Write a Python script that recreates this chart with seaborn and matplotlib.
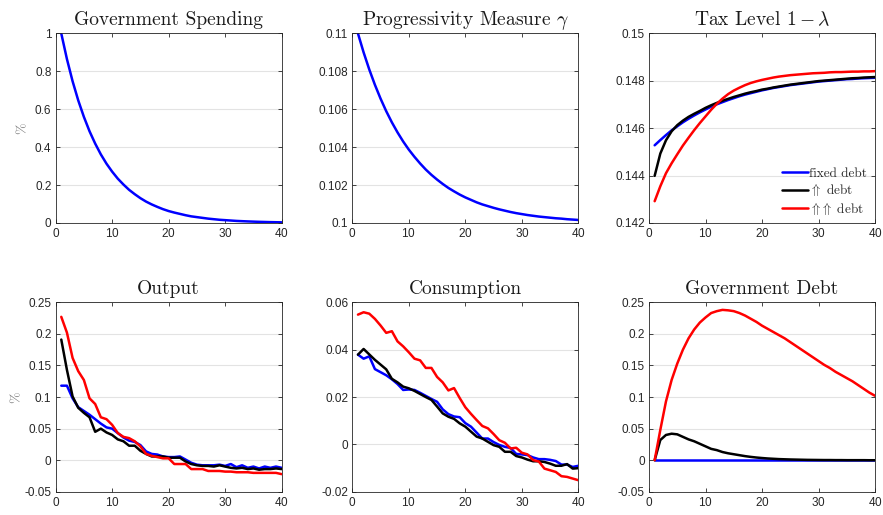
import numpy as np
import pandas as pd
import matplotlib
matplotlib.use("Agg")
import matplotlib.pyplot as plt
import seaborn as sns
from matplotlib.ticker import FuncFormatter, MultipleLocator

sns.set_style("ticks")
plt.rcParams["font.family"] = ["Liberation Sans", "DejaVu Sans"]
plt.rcParams["mathtext.fontset"] = "cm"
plt.rcParams["axes.formatter.use_mathtext"] = True

periods = list(range(1, 41))

# ---- values ----
gov_spending = [1.000, 0.865, 0.748, 0.647, 0.560, 0.484, 0.419, 0.362, 0.313, 0.271,
                0.234, 0.203, 0.175, 0.152, 0.131, 0.113, 0.098, 0.085, 0.073, 0.063,
                0.055, 0.048, 0.041, 0.035, 0.031, 0.027, 0.023, 0.020, 0.017, 0.015,
                0.013, 0.011, 0.0096, 0.0083, 0.0072, 0.0062, 0.0054, 0.0046, 0.0040, 0.0035]

progressivity = [0.11000, 0.10900, 0.10810, 0.10729, 0.10656, 0.10590, 0.10531, 0.10478, 0.10430, 0.10387,
                 0.10349, 0.10314, 0.10282, 0.10254, 0.10229, 0.10206, 0.10185, 0.10167, 0.10150, 0.10135,
                 0.10122, 0.10109, 0.10098, 0.10089, 0.10080, 0.10072, 0.10065, 0.10058, 0.10052, 0.10047,
                 0.10042, 0.10038, 0.10034, 0.10031, 0.10028, 0.10025, 0.10023, 0.10020, 0.10018, 0.10016]

tax_fixed = [0.14528, 0.14550, 0.14571, 0.14591, 0.14608, 0.14625, 0.14640, 0.14654, 0.14667, 0.14679,
             0.14691, 0.14701, 0.14710, 0.14719, 0.14727, 0.14735, 0.14742, 0.14748, 0.14754, 0.14760,
             0.14765, 0.14770, 0.14774, 0.14778, 0.14782, 0.14785, 0.14788, 0.14791, 0.14794, 0.14797,
             0.14799, 0.14801, 0.14803, 0.14805, 0.14807, 0.14808, 0.14810, 0.14811, 0.14812, 0.14813]
tax_up = [0.14399, 0.14493, 0.14549, 0.14587, 0.14613, 0.14632, 0.14648, 0.14661, 0.14673, 0.14686,
          0.14697, 0.14707, 0.14716, 0.14724, 0.14732, 0.14739, 0.14746, 0.14752, 0.14757, 0.14763,
          0.14767, 0.14772, 0.14776, 0.14780, 0.14784, 0.14787, 0.14790, 0.14793, 0.14796, 0.14799,
          0.14801, 0.14803, 0.14805, 0.14807, 0.14809, 0.14811, 0.14812, 0.14814, 0.14815, 0.14816]
tax_upup = [0.14292, 0.14355, 0.14410, 0.14452, 0.14490, 0.14527, 0.14560, 0.14592, 0.14622, 0.14650,
            0.14678, 0.14703, 0.14725, 0.14744, 0.14759, 0.14771, 0.14782, 0.14791, 0.14798, 0.14804,
            0.14809, 0.14814, 0.14818, 0.14821, 0.14824, 0.14826, 0.14828, 0.14830, 0.14832, 0.14833,
            0.14834, 0.14836, 0.14837, 0.14837, 0.14838, 0.14839, 0.14839, 0.14840, 0.14840, 0.14841]

output_fixed = [0.118, 0.118, 0.098, 0.084, 0.078, 0.072, 0.065, 0.058, 0.052, 0.050,
                0.043, 0.036, 0.031, 0.029, 0.024, 0.014, 0.010, 0.009, 0.006, 0.005,
                0.005, 0.006, 0.001, -0.004, -0.007, -0.008, -0.008, -0.008, -0.007, -0.009,
                -0.006, -0.011, -0.008, -0.012, -0.010, -0.013, -0.010, -0.012, -0.010, -0.012]
output_up = [0.191, 0.143, 0.101, 0.083, 0.075, 0.068, 0.045, 0.050, 0.044, 0.040,
             0.033, 0.030, 0.023, 0.023, 0.015, 0.010, 0.006, 0.006, 0.006, 0.004,
             0.004, 0.004, -0.002, -0.006, -0.008, -0.009, -0.009, -0.010, -0.008, -0.010,
             -0.012, -0.013, -0.012, -0.014, -0.013, -0.015, -0.014, -0.014, -0.013, -0.014]
output_upup = [0.227, 0.202, 0.162, 0.141, 0.127, 0.098, 0.089, 0.068, 0.065, 0.056,
               0.043, 0.037, 0.035, 0.030, 0.022, 0.010, 0.007, 0.005, 0.003, 0.003,
               -0.006, -0.006, -0.006, -0.014, -0.014, -0.014, -0.017, -0.017, -0.017, -0.018,
               -0.018, -0.019, -0.019, -0.019, -0.020, -0.020, -0.020, -0.020, -0.020, -0.022]

cons_fixed = [0.0379, 0.0362, 0.0372, 0.0318, 0.0305, 0.0292, 0.0275, 0.0255, 0.0230, 0.0232,
              0.0230, 0.0218, 0.0205, 0.0192, 0.0180, 0.0148, 0.0128, 0.0118, 0.0115, 0.0090,
              0.0075, 0.0050, 0.0025, 0.0025, 0.0010, -0.0002, -0.0010, -0.0015, -0.0040, -0.0042,
              -0.0045, -0.0055, -0.0062, -0.0062, -0.0065, -0.0070, -0.0085, -0.0085, -0.0095, -0.0090]
cons_up = [0.0379, 0.0403, 0.0380, 0.0357, 0.0337, 0.0317, 0.0277, 0.0262, 0.0244, 0.0237,
           0.0226, 0.0213, 0.0200, 0.0188, 0.0160, 0.0131, 0.0117, 0.0108, 0.0089, 0.0075,
           0.0054, 0.0033, 0.0025, 0.0011, -0.0003, -0.0010, -0.0031, -0.0031, -0.0049, -0.0055,
           -0.0064, -0.0071, -0.0071, -0.0074, -0.0081, -0.0090, -0.0090, -0.0083, -0.0102, -0.0100]
cons_upup = [0.0548, 0.0558, 0.0552, 0.0530, 0.0502, 0.0471, 0.0478, 0.0435, 0.0414, 0.0389,
             0.0362, 0.0355, 0.0323, 0.0323, 0.0285, 0.0262, 0.0228, 0.0238, 0.0196, 0.0157,
             0.0129, 0.0103, 0.0078, 0.0068, 0.0044, 0.0018, 0.0007, -0.0017, -0.0014, -0.0035,
             -0.0042, -0.0066, -0.0072, -0.0102, -0.0109, -0.0116, -0.0134, -0.0137, -0.0144, -0.0151]

debt_fixed = [0.0] * 40
debt_up = [0.0, 0.032, 0.040, 0.042, 0.041, 0.037, 0.033, 0.030, 0.026, 0.022,
           0.018, 0.016, 0.013, 0.011, 0.0095, 0.0080, 0.0065, 0.0053, 0.0043, 0.0035,
           0.0028, 0.0023, 0.0018, 0.0015, 0.0012, 0.0010, 0.0008, 0.0006, 0.0005, 0.0004,
           0.0003, 0.0003, 0.0002, 0.0002, 0.0001, 0.0001, 0.0001, 0.0001, 0.0, 0.0]
debt_upup = [0.0, 0.048, 0.093, 0.127, 0.153, 0.175, 0.193, 0.207, 0.218, 0.226,
             0.233, 0.236, 0.238, 0.2373, 0.236, 0.233, 0.229, 0.224, 0.219, 0.213,
             0.208, 0.203, 0.198, 0.193, 0.187, 0.181, 0.175, 0.169, 0.163, 0.157,
             0.151, 0.146, 0.140, 0.135, 0.130, 0.125, 0.119, 0.113, 0.107, 0.102]

series_labels = ["fixed debt", r"$\Uparrow$ debt", r"$\Uparrow\!\Uparrow$ debt"]
series_colors = ["#0000ff", "#000000", "#ff0000"]

panels = [
    ("Government Spending", [gov_spending], (0, 1), 0.2, "%"),
    (r"Progressivity Measure $\gamma$", [progressivity], (0.1, 0.11), 0.002, None),
    (r"Tax Level $1-\lambda$", [tax_fixed, tax_up, tax_upup], (0.142, 0.15), 0.002, None),
    ("Output", [output_fixed, output_up, output_upup], (-0.05, 0.25), 0.05, "%"),
    ("Consumption", [cons_fixed, cons_up, cons_upup], (-0.02, 0.06), 0.02, None),
    ("Government Debt", [debt_fixed, debt_up, debt_upup], (-0.05, 0.25), 0.05, None),
]

lefts = [0.063, 0.399, 0.735]
bottoms = [0.567, 0.045]
width, height = 0.256, 0.368

fig = plt.figure(figsize=(8.83, 5.15), dpi=100)
fmt = FuncFormatter(lambda v, p: f"{round(v, 6) + 0.0:g}")

for i, (title, series, ylim, ystep, ylab) in enumerate(panels):
    ax = fig.add_axes([lefts[i % 3], bottoms[i // 3], width, height])
    for k, vals in enumerate(series):
        df = pd.DataFrame({"t": periods, "v": vals})
        sns.lineplot(data=df, x="t", y="v", ax=ax, color=series_colors[k],
                     linewidth=1.8, label=series_labels[k] if i == 2 else None)
    ax.set_xlim(0, 40)
    ax.set_ylim(*ylim)
    ax.xaxis.set_major_locator(MultipleLocator(10))
    ax.set_yticks(np.arange(ylim[0], ylim[1] + ystep / 2, ystep))
    ax.yaxis.set_major_formatter(fmt)
    ax.tick_params(direction="in", top=True, right=True, length=3, width=0.6,
                   labelsize=8.5, colors="#262626", pad=3)
    for sp in ax.spines.values():
        sp.set_linewidth(0.6)
        sp.set_color("#262626")
        sp.set_visible(True)
    ax.grid(axis="y", color="#e3e3e3", linewidth=0.8)
    ax.set_axisbelow(True)
    ax.set_title(title, fontfamily="cmr10", fontsize=14, pad=6, color="#1a1a1a")
    ax.set_xlabel("")
    if ylab:
        ax.set_ylabel(ylab, fontfamily="cmr10", fontsize=10, color="#808080")
        ax.yaxis.set_label_coords(-0.12 if i == 0 else -0.145, 0.5)
    else:
        ax.set_ylabel("")
    if i == 2:
        ax.legend(loc="lower right", frameon=False, prop={"family": "cmr10", "size": 9.5},
                  handlelength=2.0, handletextpad=0.1, labelspacing=0.2,
                  borderaxespad=0.2, bbox_to_anchor=(1.0, -0.01))
    elif ax.get_legend() is not None:
        ax.get_legend().remove()

fig.savefig("out.png", dpi=100)
plt.close(fig)
